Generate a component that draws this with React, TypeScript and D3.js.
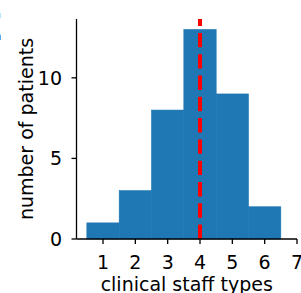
import React from "react";
import * as d3 from "d3";

const staffTypes = [1, 2, 3, 4, 5, 6];
const patientCounts = [1, 3, 8, 13, 9, 2];
const xTicks = [1, 2, 3, 4, 5, 6, 7];
const yTicks = [0, 5, 10];
const medianType = 4;

const W = 301;
const H = 293;
const left = 76.5;
const right = 297;
const top = 19;
const bottom = 239;
const blue = "#1f77b4";
const font = "DejaVu Sans, sans-serif";
const fs = 19;

export default function App() {
  const x = d3.scaleLinear().domain([0.18, 7]).range([left, right]);
  const y = d3.scaleLinear().domain([0, 13.65]).range([bottom, top]);

  return (
    <svg
      width={W}
      height={H}
      style={{ position: "fixed", left: 0, top: 0, background: "#fff" }}
      fontFamily={font}
    >
      {/* cut-off panel letter */}
      <text x={3} y={40} fontSize={37} fontWeight="bold" textAnchor="end" fill="#000">
        E
      </text>

      {staffTypes.map((t, i) => (
        <rect
          key={t}
          x={x(t - 0.5)}
          y={y(patientCounts[i])}
          width={x(t + 0.5) - x(t - 0.5)}
          height={y(0) - y(patientCounts[i])}
          fill={blue}
          stroke={blue}
          strokeWidth={0.6}
        />
      ))}

      <line
        x1={x(medianType)}
        x2={x(medianType)}
        y1={y(0)}
        y2={y(13.65)}
        stroke="#ff0000"
        strokeWidth={4}
        strokeDasharray="14.4,6.9"
      />

      {/* spines */}
      <line x1={left} x2={left} y1={top} y2={bottom} stroke="#000" strokeWidth={1.3} />
      <line x1={left} x2={right} y1={bottom} y2={bottom} stroke="#000" strokeWidth={1.3} />

      {xTicks.map((t) => (
        <g key={t}>
          <line x1={x(t)} x2={x(t)} y1={bottom} y2={bottom + 5} stroke="#000" strokeWidth={1.3} />
          <text x={x(t)} y={269} fontSize={fs} textAnchor="middle" fill="#000">
            {t}
          </text>
        </g>
      ))}
      {yTicks.map((t) => (
        <g key={t}>
          <line x1={left - 5} x2={left} y1={y(t)} y2={y(t)} stroke="#000" strokeWidth={1.3} />
          <text x={62} y={y(t)} dy="0.36em" fontSize={fs} textAnchor="end" fill="#000">
            {t}
          </text>
        </g>
      ))}

      <text x={(left + right) / 2} y={291} fontSize={fs} textAnchor="middle" fill="#000">
        clinical staff types
      </text>
      <text
        transform={`translate(33,${(top + bottom) / 2}) rotate(-90)`}
        fontSize={fs}
        textAnchor="middle"
        fill="#000"
      >
        number of patients
      </text>
    </svg>
  );
}
